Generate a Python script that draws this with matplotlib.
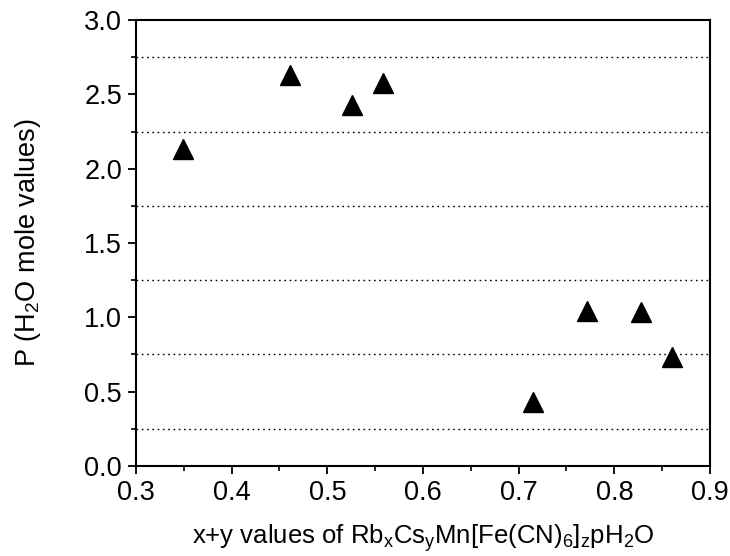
import numpy as np
import matplotlib
matplotlib.use('Agg')
import matplotlib.pyplot as plt
from matplotlib.ticker import MultipleLocator

plt.rcParams['font.family'] = ['Liberation Sans', 'DejaVu Sans']
plt.rcParams['mathtext.fontset'] = 'custom'
plt.rcParams['mathtext.rm'] = 'Liberation Sans'
plt.rcParams['mathtext.it'] = 'Liberation Sans'

# x+y values and water content
xy = [0.349, 0.461, 0.526, 0.558, 0.715, 0.771, 0.828, 0.860]
p_h2o = [2.13, 2.63, 2.425, 2.575, 0.43, 1.04, 1.035, 0.735]
grid_y = [0.25, 0.75, 1.25, 1.75, 2.25, 2.75]

fig = plt.figure(figsize=(7.3, 5.56), dpi=100)
ax = fig.add_axes([0.1863, 0.1619, 0.7863, 0.8021])

for g in grid_y:
    ax.axhline(g, color='black', lw=1.0, ls=(0, (1.2, 2.6)), zorder=1)

ax.plot(xy, p_h2o, ls='none', marker='^', ms=14.5, color='black', zorder=3)

ax.set_xlim(0.3, 0.9)
ax.set_ylim(0.0, 3.0)
ax.xaxis.set_major_locator(MultipleLocator(0.1))
ax.xaxis.set_minor_locator(MultipleLocator(0.05))
ax.yaxis.set_major_locator(MultipleLocator(0.5))
ax.yaxis.set_minor_locator(MultipleLocator(0.25))
ax.tick_params(which='major', direction='out', length=6, width=1.3, labelsize=19.5, pad=4)
ax.tick_params(which='minor', direction='out', length=3.5, width=1.2)
ax.tick_params(top=False, right=False)
for s in ax.spines.values():
    s.set_linewidth(1.5)

ax.set_xlabel(r'x+y values of Rb$_\mathrm{x}$Cs$_\mathrm{y}$Mn[Fe(CN)$_\mathrm{6}$]$_\mathrm{z}$pH$_\mathrm{2}$O',
              fontsize=18.5, labelpad=12)
ax.set_ylabel(r'P (H$_\mathrm{2}$O mole values)', fontsize=19.5, labelpad=30)

fig.savefig('out.png', dpi=100)
